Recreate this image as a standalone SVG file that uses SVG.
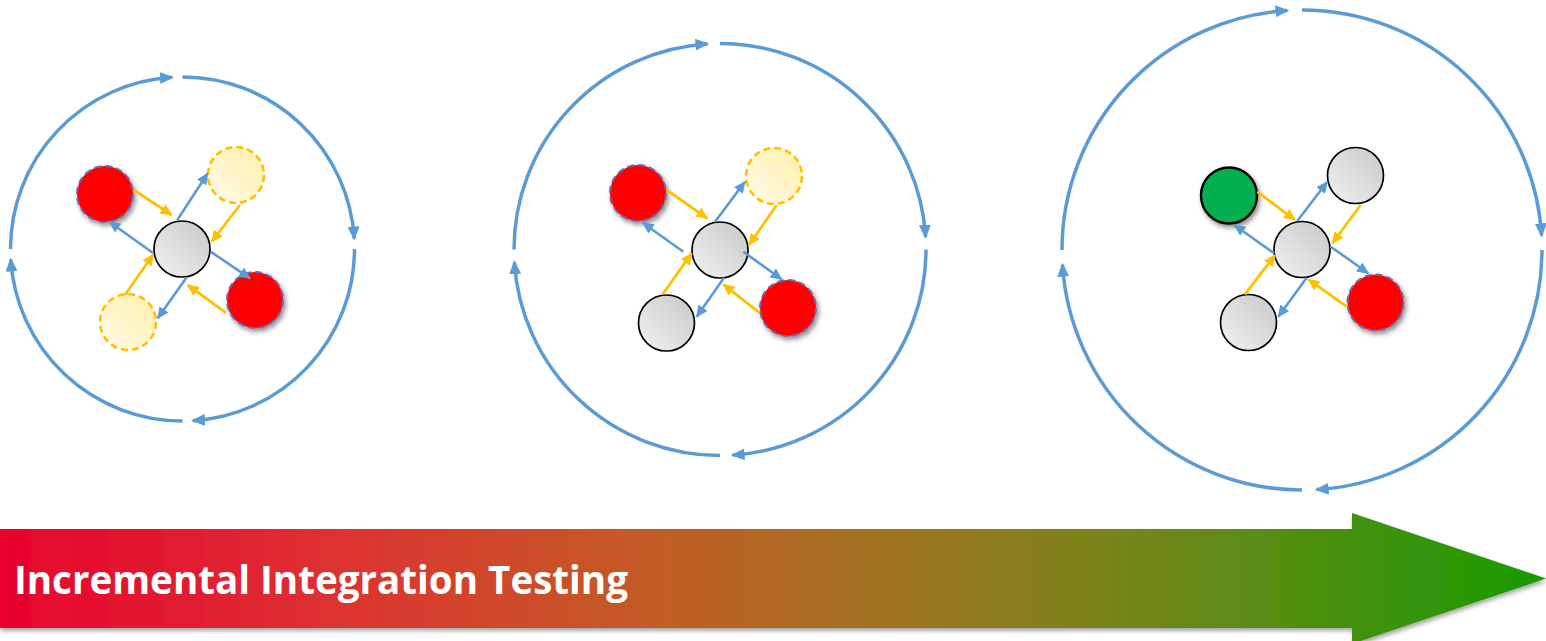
<svg xmlns="http://www.w3.org/2000/svg" width="1546" height="641" viewBox="0 0 1546 641">
<style>
.orbit{fill:none;stroke:#5B9BD5;stroke-width:3.5;marker-end:url(#oh)}
.gray{fill:url(#gGray);stroke:#000;stroke-width:1.7}
.red{fill:#FF0000;stroke:#7366B0;stroke-width:2;stroke-dasharray:7 4;filter:url(#sh)}
.stub{fill:url(#gYel);stroke:#FFC000;stroke-width:2.6;stroke-dasharray:7 4}
.green{fill:#00B050;stroke:#000;stroke-width:2.4;filter:url(#sh)}
.b{stroke:#5B9BD5;stroke-width:2.6;fill:none;marker-end:url(#bh)}
.y{stroke:#FFC000;stroke-width:2.8;fill:none;marker-end:url(#yh)}
.lbl{font-family:"Open Sans","Liberation Sans",sans-serif;font-weight:700;font-size:40px;fill:#fff}
</style>
<defs>
<linearGradient id="gGray" x1="1" y1="0" x2="0" y2="1">
<stop offset="0" stop-color="#C8C8C8"/><stop offset="1" stop-color="#F2F2F2"/>
</linearGradient>
<linearGradient id="gYel" x1="1" y1="0" x2="0" y2="1">
<stop offset="0" stop-color="#FFEFA8"/><stop offset="1" stop-color="#FFFBEC"/>
</linearGradient>
<linearGradient id="gBan" gradientUnits="userSpaceOnUse" x1="0" y1="0" x2="1546" y2="0">
<stop offset="0" stop-color="#E8022F"/>
<stop offset="0.22" stop-color="#DD3330"/>
<stop offset="0.42" stop-color="#C35C25"/>
<stop offset="0.6" stop-color="#9A771E"/>
<stop offset="0.8" stop-color="#5E8C14"/>
<stop offset="1" stop-color="#179A00"/>
</linearGradient>
<filter id="sh" x="-30%" y="-30%" width="170%" height="170%">
<feDropShadow dx="2" dy="3" stdDeviation="2.5" flood-color="#000" flood-opacity="0.45"/>
</filter>
<filter id="bsh" x="-5%" y="-20%" width="110%" height="150%">
<feDropShadow dx="1" dy="3" stdDeviation="2" flood-color="#000" flood-opacity="0.35"/>
</filter>
<marker id="oh" markerUnits="userSpaceOnUse" markerWidth="14" markerHeight="12" refX="12" refY="6" orient="auto">
<path d="M0,0 L14,6 L0,12 z" fill="#5B9BD5"/>
</marker>
<marker id="bh" markerUnits="userSpaceOnUse" markerWidth="12" markerHeight="11" refX="11" refY="5.5" orient="auto">
<path d="M0,0 L12,5.5 L0,11 z" fill="#5B9BD5"/>
</marker>
<marker id="yh" markerUnits="userSpaceOnUse" markerWidth="12" markerHeight="11" refX="11" refY="5.5" orient="auto">
<path d="M0,0 L12,5.5 L0,11 z" fill="#FFC000"/>
</marker>
</defs>

<g id="orbit1">
<path class="orbit" d="M10.5 249 A172 172 0 0 1 172 77.3"/>
<path class="orbit" d="M182.5 77 A172 172 0 0 1 354.2 238.5"/>
<path class="orbit" d="M354.5 249 A172 172 0 0 1 193 420.7"/>
<path class="orbit" d="M182.5 421 A172 172 0 0 1 10.8 259.5"/>
</g>
<g id="orbit2">
<path class="orbit" d="M514 249.5 A206 206 0 0 1 707.4 43.9"/>
<path class="orbit" d="M720 43.5 A206 206 0 0 1 925.6 236.9"/>
<path class="orbit" d="M926 249.5 A206 206 0 0 1 732.6 455.1"/>
<path class="orbit" d="M720 455.5 A206 206 0 0 1 514.4 262.1"/>
</g>
<g id="orbit3">
<path class="orbit" d="M1062 250 A240 240 0 0 1 1287.4 10.5"/>
<path class="orbit" d="M1302 10 A240 240 0 0 1 1541.6 235.4"/>
<path class="orbit" d="M1542 250 A240 240 0 0 1 1316.7 489.6"/>
<path class="orbit" d="M1302 490 A240 240 0 0 1 1062.5 264.7"/>
</g>

<g id="n1-center"><circle class="gray" cx="182" cy="249" r="28"/></g>
<g id="n1-tl"><circle class="red" cx="105" cy="194" r="28"/></g>
<g id="n1-tr"><circle class="stub" cx="236" cy="175" r="28"/></g>
<g id="n1-br"><circle class="red" cx="255" cy="300" r="28"/></g>
<g id="n1-bl"><circle class="stub" cx="128" cy="322" r="28"/></g>

<g id="n2-center"><circle class="gray" cx="720" cy="250" r="28"/></g>
<g id="n2-tl"><circle class="red" cx="638" cy="193" r="28"/></g>
<g id="n2-tr"><circle class="stub" cx="774" cy="176" r="28"/></g>
<g id="n2-br"><circle class="red" cx="788" cy="308" r="28"/></g>
<g id="n2-bl"><circle class="gray" cx="666.5" cy="323" r="28"/></g>

<g id="n3-center"><circle class="gray" cx="1302" cy="249.5" r="28"/></g>
<g id="n3-tl"><circle class="green" cx="1229" cy="195.5" r="28"/></g>
<g id="n3-tr"><circle class="gray" cx="1355.5" cy="175.5" r="28"/></g>
<g id="n3-br"><circle class="red" cx="1375.5" cy="302.5" r="28"/></g>
<g id="n3-bl"><circle class="gray" cx="1248.5" cy="322.5" r="28"/></g>

<g id="connectors">
<line class="y" x1="134" y1="190" x2="171.7" y2="215"/>
<line class="b" x1="152.7" y1="252.7" x2="109.3" y2="221.7"/>
<line class="b" x1="177.3" y1="220" x2="207.7" y2="173.3"/>
<line class="y" x1="240" y1="205" x2="211.7" y2="241.7"/>
<line class="b" x1="210.7" y1="251.7" x2="250" y2="278.3"/>
<line class="y" x1="225.7" y1="312.7" x2="187.7" y2="285"/>
<line class="b" x1="186.7" y1="277.3" x2="157.7" y2="318.3"/>
<line class="y" x1="125" y1="295" x2="153.3" y2="254.3"/>

<line class="y" x1="666.7" y1="190" x2="707.3" y2="218.3"/>
<line class="b" x1="683.3" y1="251.7" x2="642.7" y2="222.7"/>
<line class="b" x1="715" y1="221.7" x2="745" y2="181.7"/>
<line class="y" x1="776.7" y1="205" x2="749" y2="245"/>
<line class="b" x1="743.3" y1="251.7" x2="781.7" y2="279.3"/>
<line class="y" x1="759.3" y1="312.7" x2="723.3" y2="284.3"/>
<line class="b" x1="724" y1="277.7" x2="696.7" y2="316.7"/>
<line class="y" x1="662.7" y1="294.3" x2="691.7" y2="253.3"/>

<line class="y" x1="1257.3" y1="191.7" x2="1295" y2="220"/>
<line class="b" x1="1274" y1="253.3" x2="1234.3" y2="225"/>
<line class="b" x1="1297.3" y1="221" x2="1327.3" y2="181.7"/>
<line class="y" x1="1360.7" y1="205" x2="1332.3" y2="243.3"/>
<line class="b" x1="1330.7" y1="246.7" x2="1368.3" y2="273.3"/>
<line class="y" x1="1346.7" y1="306.7" x2="1308.3" y2="279.3"/>
<line class="b" x1="1306.7" y1="277.7" x2="1278.3" y2="316.7"/>
<line class="y" x1="1245" y1="294.3" x2="1275" y2="255"/>
</g>

<g id="banner">
<polygon points="0,529 1352,529 1352,513 1546,578.5 1352,644 1352,628 0,628" fill="url(#gBan)" filter="url(#bsh)"/>
<text class="lbl" x="14" y="594" textLength="614" lengthAdjust="spacingAndGlyphs">Incremental Integration Testing</text>
</g>
</svg>
